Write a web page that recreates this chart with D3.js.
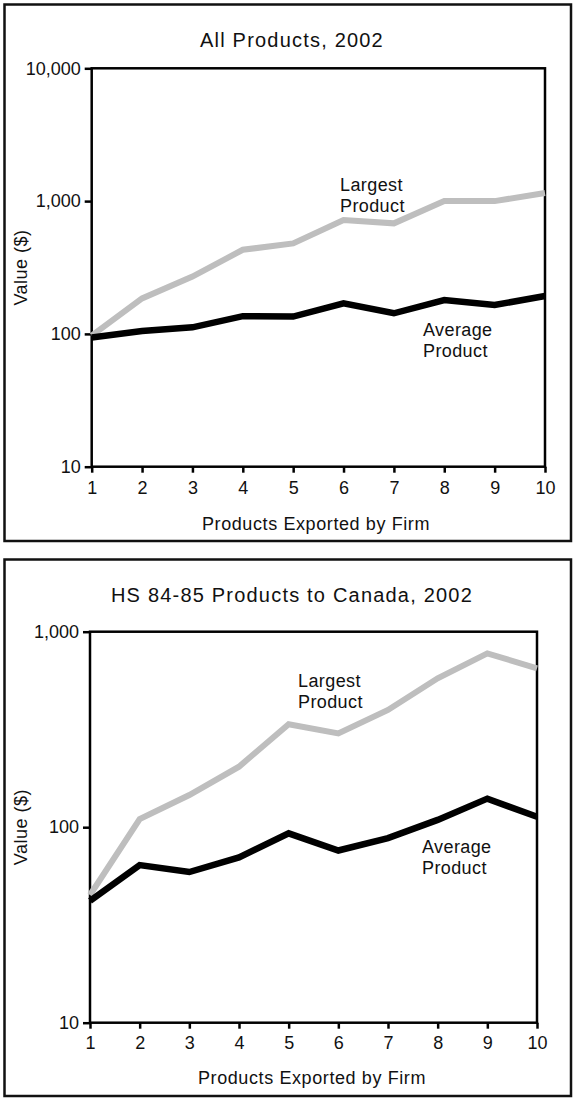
<!DOCTYPE html>
<html>
<head>
<meta charset="utf-8">
<script src="https://cdn.jsdelivr.net/npm/d3@7"></script>
<style>
  body { margin: 0; background: #fff; }
  svg { display: block; font-family: "Liberation Sans", Arial, sans-serif; }
</style>
</head>
<body>
<svg id="chart" width="573" height="1098"></svg>
<script>
// products exported by firm (x axis)
const productCounts = [1, 2, 3, 4, 5, 6, 7, 8, 9, 10];

// All Products, 2002
const allLargest = [97, 185, 270, 430, 480, 720, 680, 1000, 1000, 1150];
const allAverage = [94, 105, 112, 136, 135, 170, 143, 180, 165, 193];
const allTicks = [10, 100, 1000, 10000];

// HS 84-85 Products to Canada, 2002
const canLargest = [45, 110, 146, 204, 336, 302, 398, 578, 775, 650];
const canAverage = [42, 64, 59, 70, 93, 76, 88, 109, 140, 113];
const canTicks = [10, 100, 1000];

const svg = d3.select('#chart');
const fmt = d3.format(',');
const FONT = '"Liberation Sans", Arial, sans-serif';

function drawPanel(cfg) {
  const g = svg.append('g');

  // outer box
  g.append('rect')
    .attr('x', 4.5).attr('y', cfg.boxTop)
    .attr('width', 566.5).attr('height', cfg.boxBottom - cfg.boxTop)
    .attr('fill', 'none').attr('stroke', '#111').attr('stroke-width', 2.5);

  const x = d3.scaleLinear().domain([1, 10]).range([cfg.left, cfg.right]);
  const y = d3.scaleLog().domain(d3.extent(cfg.ticks)).range([cfg.bottom, cfg.top]);

  g.append('text')
    .attr('x', 292).attr('y', cfg.titleY)
    .attr('text-anchor', 'middle')
    .attr('font-size', 20).attr('letter-spacing', 1.2).attr('fill', '#111')
    .text(cfg.title);

  const axisY = g.append('g')
    .attr('transform', `translate(${cfg.left},0)`)
    .call(d3.axisLeft(y).tickValues(cfg.ticks).tickFormat(fmt).tickSize(7).tickPadding(4).tickSizeOuter(0));
  axisY.select('.domain').remove();
  axisY.selectAll('line').attr('stroke', '#000').attr('stroke-width', 2.5);
  axisY.selectAll('text').attr('font-size', 18).attr('fill', '#111').attr('font-family', FONT);

  const axisX = g.append('g')
    .attr('transform', `translate(0,${cfg.bottom})`)
    .call(d3.axisBottom(x).tickValues(productCounts).tickFormat(d3.format('d')).tickSize(6).tickPadding(cfg.xPad).tickSizeOuter(0));
  axisX.select('.domain').remove();
  axisX.selectAll('line').attr('stroke', '#000').attr('stroke-width', 2.5);
  axisX.selectAll('text').attr('font-size', 18).attr('fill', '#111').attr('font-family', FONT);

  // plot frame
  g.append('rect')
    .attr('x', cfg.left).attr('y', cfg.top)
    .attr('width', cfg.right - cfg.left).attr('height', cfg.bottom - cfg.top)
    .attr('fill', 'none').attr('stroke', '#000').attr('stroke-width', 2.5);

  const line = d3.line()
    .x((d, i) => x(productCounts[i]))
    .y(d => y(d));

  g.append('path').datum(cfg.largest)
    .attr('d', line)
    .attr('fill', 'none').attr('stroke', '#bebebe').attr('stroke-width', 6)
    .attr('stroke-linejoin', 'miter');

  g.append('path').datum(cfg.average)
    .attr('d', line)
    .attr('fill', 'none').attr('stroke', '#000').attr('stroke-width', 6.5)
    .attr('stroke-linejoin', 'miter');

  // labels
  const label = (lx, ly, lines) => {
    const t = g.append('text').attr('font-size', 18).attr('letter-spacing', 0.4).attr('fill', '#111');
    lines.forEach((s, i) => {
      t.append('tspan').attr('x', lx).attr('y', ly + i * 21).text(s);
    });
  };
  label(cfg.largestLabel[0], cfg.largestLabel[1], ['Largest', 'Product']);
  label(cfg.averageLabel[0], cfg.averageLabel[1], ['Average', 'Product']);

  g.append('text')
    .attr('x', cfg.xTitleX).attr('y', cfg.xTitleY)
    .attr('text-anchor', 'middle').attr('font-size', 18).attr('letter-spacing', 0.6).attr('fill', '#111')
    .text('Products Exported by Firm');

  g.append('text')
    .attr('transform', `translate(27,${(cfg.top + cfg.bottom) / 2}) rotate(-90)`)
    .attr('text-anchor', 'middle').attr('font-size', 18).attr('letter-spacing', 0.5).attr('fill', '#111')
    .text('Value ($)');
}

drawPanel({
  title: 'All Products, 2002',
  boxTop: 4.5, boxBottom: 541,
  left: 91.7, right: 545, top: 68.3, bottom: 466.7,
  titleY: 46.7, xTitleX: 316, xTitleY: 530, xPad: 9,
  ticks: allTicks, largest: allLargest, average: allAverage,
  largestLabel: [340, 190.7], averageLabel: [423, 336]
});

drawPanel({
  title: 'HS 84-85 Products to Canada, 2002',
  boxTop: 559.5, boxBottom: 1096,
  left: 90, right: 537, top: 631.7, bottom: 1022.7,
  titleY: 601.7, xTitleX: 312, xTitleY: 1084, xPad: 8,
  ticks: canTicks, largest: canLargest, average: canAverage,
  largestLabel: [298, 686.7], averageLabel: [422, 852.7]
});
</script>
</body>
</html>
